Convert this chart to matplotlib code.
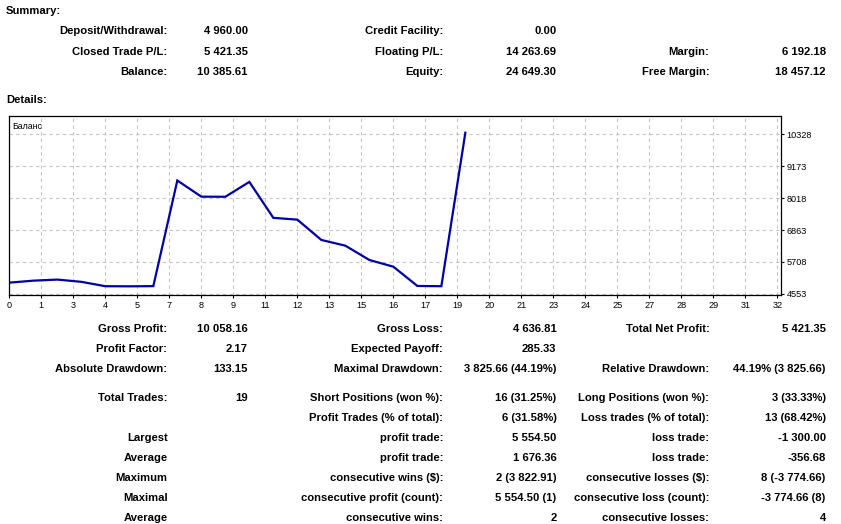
import matplotlib
matplotlib.use("Agg")
import matplotlib.pyplot as plt

W, H = 841, 524

# balance after each closed trade (0 = initial deposit)
balance = [4960.00, 5032.00, 5071.00, 4990.00, 4831.00, 4826.85, 4833.86,
           8656.77, 8072.00, 8068.00, 8605.77, 7305.77, 7240.00, 6505.00,
           6298.00, 5780.00, 5538.00, 4840.00, 4831.11, 10385.61]
trade_no = list(range(len(balance)))

y_ticks = [4553, 5708, 6863, 8018, 9173, 10328]
x_tick_labels = ["0", "1", "3", "4", "5", "7", "8", "9", "11", "12", "13", "15", "16",
                 "17", "19", "20", "21", "23", "24", "25", "27", "28", "29", "31", "32"]

summary_col1 = [("Deposit/Withdrawal:", "4 960.00"), ("Closed Trade P/L:", "5 421.35"),
                ("Balance:", "10 385.61")]
summary_col2 = [("Credit Facility:", "0.00"), ("Floating P/L:", "14 263.69"),
                ("Equity:", "24 649.30")]
summary_col3 = [("", ""), ("Margin:", "6 192.18"), ("Free Margin:", "18 457.12")]

details_col1 = [("Gross Profit:", "10 058.16"), ("Profit Factor:", "2.17"),
                ("Absolute Drawdown:", "133.15"), ("Total Trades:", "19"), ("", ""),
                ("Largest", ""), ("Average", ""), ("Maximum", ""), ("Maximal", ""),
                ("Average", "")]
details_col2 = [("Gross Loss:", "4 636.81"), ("Expected Payoff:", "285.33"),
                ("Maximal Drawdown:", "3 825.66 (44.19%)"),
                ("Short Positions (won %):", "16 (31.25%)"),
                ("Profit Trades (% of total):", "6 (31.58%)"),
                ("profit trade:", "5 554.50"), ("profit trade:", "1 676.36"),
                ("consecutive wins ($):", "2 (3 822.91)"),
                ("consecutive profit (count):", "5 554.50 (1)"),
                ("consecutive wins:", "2")]
details_col3 = [("Total Net Profit:", "5 421.35"), ("", ""),
                ("Relative Drawdown:", "44.19% (3 825.66)"),
                ("Long Positions (won %):", "3 (33.33%)"),
                ("Loss trades (% of total):", "13 (68.42%)"),
                ("loss trade:", "-1 300.00"), ("loss trade:", "-356.68"),
                ("consecutive losses ($):", "8 (-3 774.66)"),
                ("consecutive loss (count):", "-3 774.66 (8)"),
                ("consecutive losses:", "4")]

plt.rcParams["font.family"] = ["Liberation Sans", "DejaVu Sans"]

fig = plt.figure(figsize=(W / 100, H / 100), dpi=100)
fig.patch.set_facecolor("white")


def put(x, y, s, ha="right", size=8.1, weight="bold"):
    fig.text(x / W, 1 - y / H, s, ha=ha, va="baseline", fontsize=size,
             fontweight=weight, color="black")


put(6, 13.5, "Summary:", ha="left")
put(6, 103, "Details:", ha="left")

label_x = [167.5, 443, 709.5]
value_x = [247.7, 556.5, 825.7]

summary_y = [34.3, 54.6, 75.0]
for c, col in enumerate([summary_col1, summary_col2, summary_col3]):
    for (lab, val), y in zip(col, summary_y):
        put(label_x[c], y, lab)
        put(value_x[c], y, val)

details_y = [332.3, 352.3, 372.3, 400.7, 420.7, 440.7, 460.7, 480.7, 500.7, 520.7]
for c, col in enumerate([details_col1, details_col2, details_col3]):
    for (lab, val), y in zip(col, details_y):
        put(label_x[c], y, lab)
        put(value_x[c], y, val)

# balance chart
left, right, top, bottom = 9.3, 781, 116, 295
ax = fig.add_axes([left / W, 1 - bottom / H, (right - left) / W, (bottom - top) / H])
ax.plot(trade_no, balance, color="#0000a8", lw=1.6, solid_joinstyle="miter")

ax.set_xlim(0, 32.15)
ax.set_ylim(4513, 10991)
ax.set_xticks([k * 4 / 3 for k in range(len(x_tick_labels))])
ax.set_xticklabels(x_tick_labels)
ax.set_yticks(y_ticks)
ax.yaxis.tick_right()
ax.tick_params(axis="both", labelsize=6.6, length=2.5, width=0.8, color="black",
               labelcolor="black", pad=1.5)
ax.grid(True, color="#c4c4c4", lw=0.8, linestyle=(0, (3, 3)))
for sp in ax.spines.values():
    sp.set_linewidth(0.9)
    sp.set_color("black")

ax.text(0.004, 0.965, "Баланс", transform=ax.transAxes, ha="left", va="top",
        fontsize=6.3, color="black")

fig.savefig("out.png", dpi=100)
